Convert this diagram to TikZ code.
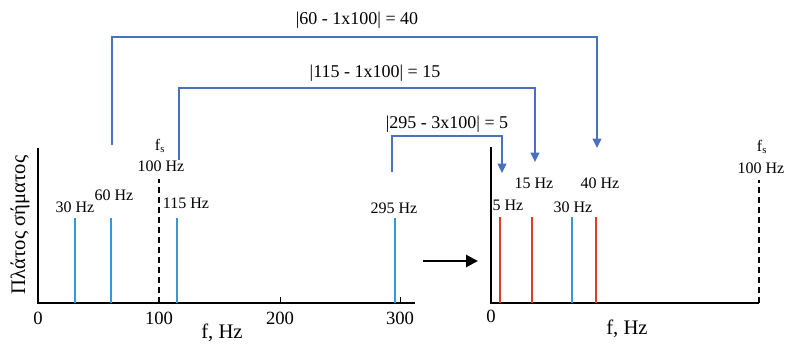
\documentclass[tikz,border=0pt]{standalone}
\usepackage{fontspec}
\setmainfont{Liberation Serif}
\usetikzlibrary{arrows.meta}
\definecolor{specblue}{RGB}{58,150,212}
\definecolor{conblue}{RGB}{72,114,192}
\definecolor{specred}{RGB}{222,62,40}
\begin{document}
\begin{tikzpicture}[x=0.75pt,y=-0.75pt,
  axis/.style={line width=1.6pt,black},
  bar/.style={line width=2.2pt},
  fsline/.style={line width=1.9pt,black,dash pattern=on 4.5pt off 3pt},
  conn/.style={conblue,line width=1.4pt,-{Triangle[width=6.5pt,length=7pt]}},
  lbl/.style={font=\fontsize{12}{12}\selectfont,inner sep=0pt},
  ticklbl/.style={font=\fontsize{14}{14}\selectfont,inner sep=0pt},
  axlbl/.style={font=\fontsize{15.5}{15.5}\selectfont,inner sep=0pt},
  eqlbl/.style={font=\fontsize{13.5}{13.5}\selectfont,inner sep=0pt},
  bigarrow/.style={line width=2pt,black,-{Triangle[width=9pt,length=9pt]}}]
\useasboundingbox (0,0) rectangle (785,345);

% ---------- left spectrum ----------
\coordinate (Ltop) at (38,148);
\coordinate (Lorig) at (38,303);
\coordinate (Lend) at (415,303);
\draw[axis] (Ltop) -- (Lorig) -- (Lend);
\draw[line width=0.6pt] (280,303) -- (280,297);
\draw[line width=0.6pt] (400,303) -- (400,297);

\coordinate (b30) at (75,303);  \coordinate (t30) at (75,218);
\coordinate (b60) at (111,303); \coordinate (t60) at (111,218);
\coordinate (b115) at (177,303); \coordinate (t115) at (177,218);
\coordinate (b295) at (395,303); \coordinate (t295) at (395,218);
\coordinate (bfs) at (159,303); \coordinate (tfs) at (159,179);
\draw[bar,specblue] (b30) -- (t30);
\draw[bar,specblue] (b60) -- (t60);
\draw[bar,specblue] (b115) -- (t115);
\draw[bar,specblue] (b295) -- (t295);
\draw[fsline] (bfs) -- (tfs);

\node[lbl] (n30) at (75,207) {30 Hz};
\node[lbl] (n60) at (114,195) {60 Hz};
\node[lbl] (n115) at (186,203) {115 Hz};
\node[lbl] (n295) at (394,208) {295 Hz};
\node[lbl] (nfs) at (160,146) {f\textsubscript{s}};
\node[lbl] (n100) at (161,166) {100 Hz};

\node[ticklbl] (x0) at (38,318) {0};
\node[ticklbl] (x100) at (159,318) {100};
\node[ticklbl] (x200) at (280,318) {200};
\node[ticklbl] (x300) at (400,318) {300};
\node[axlbl] (xl) at (222,333) {f, Hz};
\node[axlbl,rotate=90] (yl) at (20,225) {Πλάτος σήματος};

% ---------- arrow between plots ----------
\coordinate (aS) at (423,261);
\coordinate (aE) at (478,261);
\draw[bigarrow] (aS) -- (aE);

% ---------- right spectrum ----------
\coordinate (Rtop) at (491,147);
\coordinate (Rorig) at (491,303);
\coordinate (Rend) at (759,303);
\draw[axis] (Rtop) -- (Rorig) -- (Rend);
\coordinate (rb5) at (500,303);  \coordinate (rt5) at (500,217);
\coordinate (rb15) at (532,303); \coordinate (rt15) at (532,217);
\coordinate (rb30) at (572,303); \coordinate (rt30) at (572,217);
\coordinate (rb40) at (596,303); \coordinate (rt40) at (596,217);
\coordinate (rbfs) at (759,303); \coordinate (rtfs) at (759,180);
\draw[bar,specred] (rb5) -- (rt5);
\draw[bar,specred] (rb15) -- (rt15);
\draw[bar,specblue] (rb30) -- (rt30);
\draw[bar,specred] (rb40) -- (rt40);
\draw[fsline] (rbfs) -- (rtfs);

\node[lbl] (r5) at (508,205) {5 Hz};
\node[lbl] (r15) at (534,183) {15 Hz};
\node[lbl] (r40) at (600,183) {40 Hz};
\node[lbl] (r30) at (573,207) {30 Hz};
\node[lbl] (rfs) at (762,147) {f\textsubscript{s}};
\node[lbl] (r100) at (761,168) {100 Hz};
\node[ticklbl] (r0) at (491,316) {0};
\node[axlbl] (rxl) at (627,329) {f, Hz};

% ---------- aliasing connectors ----------
\coordinate (c1s) at (112,145); \coordinate (c1m) at (597,37); \coordinate (c1e) at (597,148);
\coordinate (c2s) at (179,160); \coordinate (c2m) at (535,88); \coordinate (c2e) at (535,162);
\coordinate (c3s) at (392,172); \coordinate (c3m) at (502,136); \coordinate (c3e) at (502,173);
\draw[conn] (c1s) |- (c1m) -- (c1e);
\draw[conn] (c2s) |- (c2m) -- (c2e);
\draw[conn] (c3s) |- (c3m) -- (c3e);

\node[eqlbl] (e1) at (357,20) {|60 - 1x100| = 40};
\node[eqlbl] (e2) at (375,73) {|115 - 1x100| = 15};
\node[eqlbl] (e3) at (447,124) {|295 - 3x100| = 5};
\end{tikzpicture}
\end{document}
